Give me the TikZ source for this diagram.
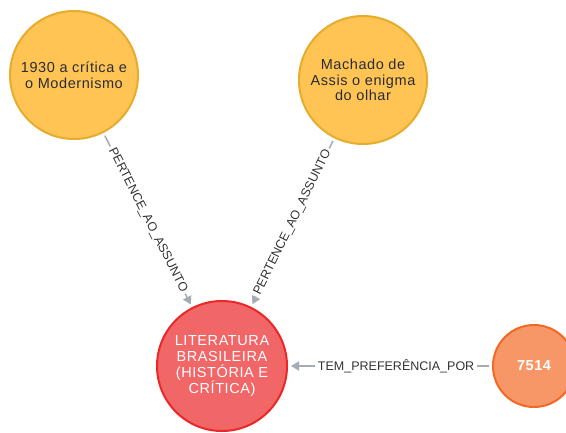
\documentclass[tikz,border=0pt]{standalone}
\usepackage{fontspec}
\setmainfont{Liberation Sans}
\newfontfamily\nodefont{Liberation Sans}[LetterSpace=4]
\usetikzlibrary{arrows.meta}

\definecolor{topicfill}{HTML}{FFC454}
\definecolor{topicdraw}{HTML}{E6AC2C}
\definecolor{subjfill}{HTML}{F16667}
\definecolor{subjdraw}{HTML}{EB2728}
\definecolor{userfill}{HTML}{F79767}
\definecolor{userdraw}{HTML}{F36924}
\definecolor{reldraw}{HTML}{A5ABB6}
\definecolor{darktext}{HTML}{2A2C34}
\definecolor{labeltext}{HTML}{333333}

\tikzset{
  entity/.style={circle, inner sep=0pt, line width=2pt, align=center,
    font=\nodefont\fontsize{14.5}{15.8}\selectfont},
  topic/.style={entity, fill=topicfill, draw=topicdraw, text=darktext, minimum size=128pt},
  subject/.style={entity, fill=subjfill, draw=subjdraw, text=white, minimum size=130pt},
  user/.style={entity, fill=userfill, draw=userdraw, text=white, minimum size=82pt,
    font=\nodefont\bfseries\fontsize{14.5}{15.8}\selectfont},
  rel/.style={draw=reldraw, line width=1.5pt, shorten <=3pt, shorten >=3pt,
    -{Triangle[length=8pt,width=9pt]}},
  rellabel/.style={fill=white, inner sep=2.5pt, text=labeltext,
    font=\fontsize{12.5}{14}\selectfont}
}

\begin{document}
\begin{tikzpicture}[x=1pt,y=-1pt]
  \useasboundingbox (0,0) rectangle (566,432);
  \clip (0,0) rectangle (566,432);
  \fill[white] (0,0) rectangle (566,432);

  % entities
  \node[topic]   (modern)  at (74,75)   {1930 a crítica e\\o Modernismo};
  \node[topic]   (machado) at (363,80)  {Machado de\\Assis o enigma\\do olhar};
  \node[subject] (litbr)   at (222,366) {LITERATURA\\BRASILEIRA\\(HISTÓRIA E\\CRÍTICA)};
  \node[user]    (reader)  at (534,366) {7514};

  % relationships
  \draw[rel] (modern)  -- node[rellabel, sloped] {PERTENCE\_AO\_ASSUNTO} (litbr);
  \draw[rel] (machado) -- node[rellabel, sloped] {PERTENCE\_AO\_ASSUNTO} (litbr);
  \draw[rel] (reader)  -- node[rellabel, pos=0.47] {TEM\_PREFERÊNCIA\_POR} (litbr);
\end{tikzpicture}
\end{document}
